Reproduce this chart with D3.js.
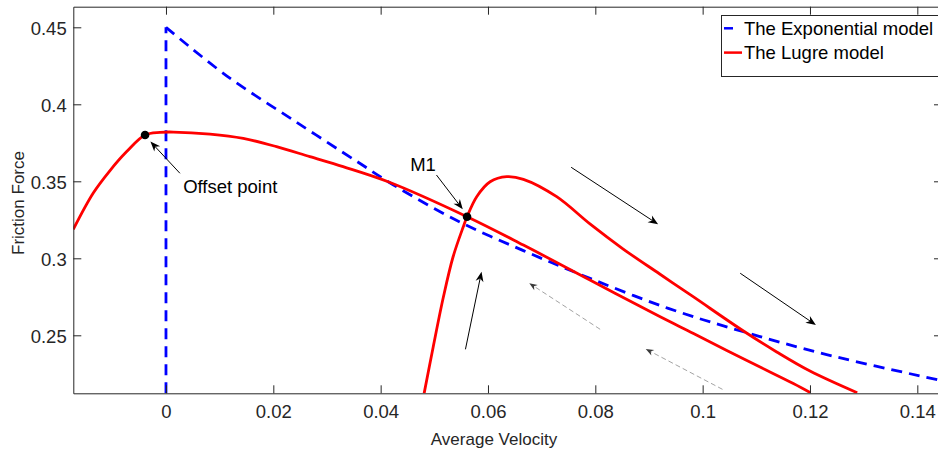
<!DOCTYPE html>
<html>
<head>
<meta charset="utf-8">
<script src="https://cdn.jsdelivr.net/npm/d3@7"></script>
<style>
  body { margin: 0; background: #fff; }
  svg { display: block; }
  text { font-family: "Liberation Sans", Arial, Helvetica, sans-serif; }
</style>
</head>
<body>
<svg id="chart" width="938" height="450"></svg>
<script>
// Axis ticks
const xTicks = [0, 0.02, 0.04, 0.06, 0.08, 0.1, 0.12, 0.14];
const xTickLabels = ["0", "0.02", "0.04", "0.06", "0.08", "0.1", "0.12", "0.14"];
const yTicks = [0.25, 0.3, 0.35, 0.4, 0.45];
const yTickLabels = ["0.25", "0.3", "0.35", "0.4", "0.45"];

// Exponential model: vertical jump at v = 0, then decay
const expJumpVel = [0, 0];
const expJumpForce = [0.2123, 0.45];
const expVel   = [0, 0.0113, 0.0237, 0.0361, 0.0424, 0.0542, 0.0666, 0.079, 0.0936, 0.1076, 0.1231, 0.1446];
const expForce = [0.45, 0.4185, 0.3898, 0.3617, 0.3476, 0.3245, 0.305, 0.287, 0.2675, 0.2523, 0.2375, 0.2205];

// Lugre model: main branch
const lugreVel   = [-0.01727, -0.01355, -0.01043, -0.00732, -0.00391, -0.0011, 0.00137, 0.0082, 0.0144, 0.0206, 0.0268, 0.033, 0.0414, 0.0561, 0.0666, 0.079, 0.0920, 0.0983, 0.1045, 0.1107, 0.1169, 0.1201];
const lugreForce = [0.3188, 0.3424, 0.3570, 0.3693, 0.3801, 0.3818, 0.382, 0.3807, 0.3779, 0.3725, 0.366, 0.3595, 0.3497, 0.327, 0.3086, 0.2859, 0.2622, 0.2512, 0.2401, 0.2294, 0.2187, 0.2127];

// Lugre model: rising branch through M1
const riseVel   = [0.0481, 0.0498, 0.0517, 0.0535, 0.0554, 0.0561, 0.0579, 0.0604, 0.0635, 0.0666, 0.0728, 0.0790, 0.0852, 0.0920, 0.0983, 0.1076, 0.1138, 0.1200, 0.1288];
const riseForce = [0.2123, 0.2426, 0.275, 0.301, 0.3205, 0.327, 0.340, 0.3497, 0.353, 0.3513, 0.340, 0.3223, 0.3060, 0.2898, 0.2749, 0.2528, 0.2392, 0.2268, 0.2127];

// Highlighted points
const markerVel   = [-0.0039, 0.0561];
const markerForce = [0.3801, 0.327];

// Text annotations
const noteText  = ["Offset point", "M1"];
const noteVel   = [0.0032, 0.0455];
const noteForce = [0.3426, 0.3569];

// Direction arrows (from -> to)
const arrowFromVel   = [0.0026, 0.0504, 0.0755, 0.1070, 0.0558, 0.0809, 0.1037];
const arrowFromForce = [0.3552, 0.3541, 0.3591, 0.2903, 0.2409, 0.2539, 0.2149];
const arrowToVel     = [-0.0029, 0.0553, 0.0917, 0.1211, 0.0588, 0.0677, 0.0894];
const arrowToForce   = [0.3758, 0.3318, 0.3221, 0.2567, 0.2913, 0.2838, 0.2411];
const arrowDashed    = [false, false, false, false, false, true, true];

// Legend
const legendLabels = ["The Exponential model", "The Lugre model"];
const legendColors = ["#0000ff", "#ff0000"];
const legendDashed = [true, false];

const svg = d3.select("#chart");
const W = 938, H = 450;
const plotLeft = 73.3, plotRight = 942, plotTop = 6.7, plotBottom = 393.3;
const axisColor = "#262626";
const fontSize = 18.5;

const x = d3.scaleLinear().domain([-0.01727, 0.1446]).range([plotLeft, plotRight]);
const y = d3.scaleLinear().domain([0.21234, 0.46338]).range([plotBottom, plotTop]);

svg.append("rect").attr("width", W).attr("height", H).attr("fill", "#fff");

svg.append("defs").append("clipPath").attr("id", "plot-clip")
  .append("rect").attr("x", plotLeft).attr("y", plotTop)
  .attr("width", plotRight - plotLeft).attr("height", plotBottom - plotTop);

const zip = (a, b) => a.map((v, i) => [v, b[i]]);
const line = d3.line().x(d => x(d[0])).y(d => y(d[1]));
const smooth = d3.line().x(d => x(d[0])).y(d => y(d[1])).curve(d3.curveCatmullRom.alpha(0.5));

const plot = svg.append("g").attr("clip-path", "url(#plot-clip)");

// Exponential model (dashed blue)
plot.append("path").datum(zip(expJumpVel, expJumpForce))
  .attr("d", line).attr("fill", "none").attr("stroke", "#0000ff")
  .attr("stroke-width", 2.8).attr("stroke-dasharray", "11,7");
plot.append("path").datum(zip(expVel, expForce))
  .attr("d", smooth).attr("fill", "none").attr("stroke", "#0000ff")
  .attr("stroke-width", 2.8).attr("stroke-dasharray", "11,7");

// Lugre model (solid red)
plot.append("path").datum(zip(lugreVel, lugreForce))
  .attr("d", smooth).attr("fill", "none").attr("stroke", "#ff0000")
  .attr("stroke-width", 2.8).attr("stroke-linejoin", "round");
plot.append("path").datum(zip(riseVel, riseForce))
  .attr("d", smooth).attr("fill", "none").attr("stroke", "#ff0000")
  .attr("stroke-width", 2.8).attr("stroke-linejoin", "round");

// Marked points
plot.selectAll("circle.marker").data(zip(markerVel, markerForce)).join("circle")
  .attr("class", "marker")
  .attr("cx", d => x(d[0])).attr("cy", d => y(d[1])).attr("r", 4.3).attr("fill", "#000");

// Arrows
function drawArrow(g, x1, y1, x2, y2, dashed) {
  const dx = x2 - x1, dy = y2 - y1, len = Math.hypot(dx, dy);
  const ux = dx / len, uy = dy / len, px = -uy, py = ux;
  const L = dashed ? 8 : 10, Wd = dashed ? 3.2 : 4;
  const bx = x2 - ux * L, by = y2 - uy * L;
  const nx = x2 - ux * L * 0.7, ny = y2 - uy * L * 0.7;
  g.append("line").attr("x1", x1).attr("y1", y1).attr("x2", nx).attr("y2", ny)
    .attr("stroke", dashed ? "#8c8c8c" : "#000")
    .attr("stroke-width", dashed ? 0.8 : 1)
    .attr("stroke-dasharray", dashed ? "5,3" : null);
  g.append("path")
    .attr("d", `M${x2},${y2}L${bx + px * Wd},${by + py * Wd}L${nx},${ny}L${bx - px * Wd},${by - py * Wd}Z`)
    .attr("fill", dashed ? "#3a3a3a" : "#000");
}
const arrows = svg.append("g");
arrowFromVel.forEach((v, i) => {
  drawArrow(arrows, x(v), y(arrowFromForce[i]), x(arrowToVel[i]), y(arrowToForce[i]), arrowDashed[i]);
});

// Annotation text
svg.selectAll("text.note").data(noteText).join("text")
  .attr("class", "note")
  .attr("x", (d, i) => x(noteVel[i])).attr("y", (d, i) => y(noteForce[i]))
  .attr("font-size", fontSize).attr("fill", "#000").text(d => d);

// Axes with inward ticks on all four sides
function styleAxis(g) {
  g.selectAll("path.domain").attr("stroke", axisColor).attr("stroke-width", 1);
  g.selectAll(".tick line").attr("stroke", axisColor).attr("stroke-width", 1);
  g.selectAll(".tick text").attr("fill", axisColor).attr("font-size", fontSize)
    .attr("font-family", "'Liberation Sans', Arial, Helvetica, sans-serif");
}
svg.append("g").attr("transform", `translate(0,${plotBottom})`)
  .call(d3.axisBottom(x).tickValues(xTicks).tickFormat((d, i) => xTickLabels[i])
    .tickSizeInner(-8).tickSizeOuter(0).tickPadding(11.5))
  .call(styleAxis);
svg.append("g").attr("transform", `translate(0,${plotTop})`)
  .call(d3.axisTop(x).tickValues(xTicks).tickFormat("")
    .tickSizeInner(-8).tickSizeOuter(0))
  .call(styleAxis);
const yAxisG = svg.append("g").attr("transform", `translate(${plotLeft},0)`)
  .call(d3.axisLeft(y).tickValues(yTicks).tickFormat((d, i) => yTickLabels[i])
    .tickSizeInner(-8).tickSizeOuter(0).tickPadding(6.6))
  .call(styleAxis);
yAxisG.selectAll(".tick text").attr("dy", "0.38em");
svg.append("g").attr("transform", `translate(${plotRight},0)`)
  .call(d3.axisRight(y).tickValues(yTicks).tickFormat("")
    .tickSizeInner(-8).tickSizeOuter(0))
  .call(styleAxis);

// Axis titles
svg.append("text").attr("x", 494).attr("y", 445).attr("text-anchor", "middle")
  .attr("font-size", 17).attr("fill", axisColor).text("Average Velocity");
svg.append("text").attr("transform", "translate(24,203) rotate(-90)")
  .attr("text-anchor", "middle").attr("font-size", 17).attr("fill", axisColor)
  .text("Friction Force");

// Legend
const lg = svg.append("g");
lg.append("rect").attr("x", 721.5).attr("y", 15.5).attr("width", 240).attr("height", 61)
  .attr("fill", "#fff").attr("stroke", axisColor).attr("stroke-width", 1);
legendLabels.forEach((lab, i) => {
  const ly = 28.3 + i * 24.3;
  lg.append("line").attr("x1", 724).attr("x2", 742).attr("y1", ly).attr("y2", ly)
    .attr("stroke", legendColors[i]).attr("stroke-width", 2.5)
    .attr("stroke-dasharray", legendDashed[i] ? "9,9" : null);
  lg.append("text").attr("x", 744).attr("y", ly + 6.6).attr("font-size", fontSize)
    .attr("fill", "#000").text(lab);
});
</script>
</body>
</html>
